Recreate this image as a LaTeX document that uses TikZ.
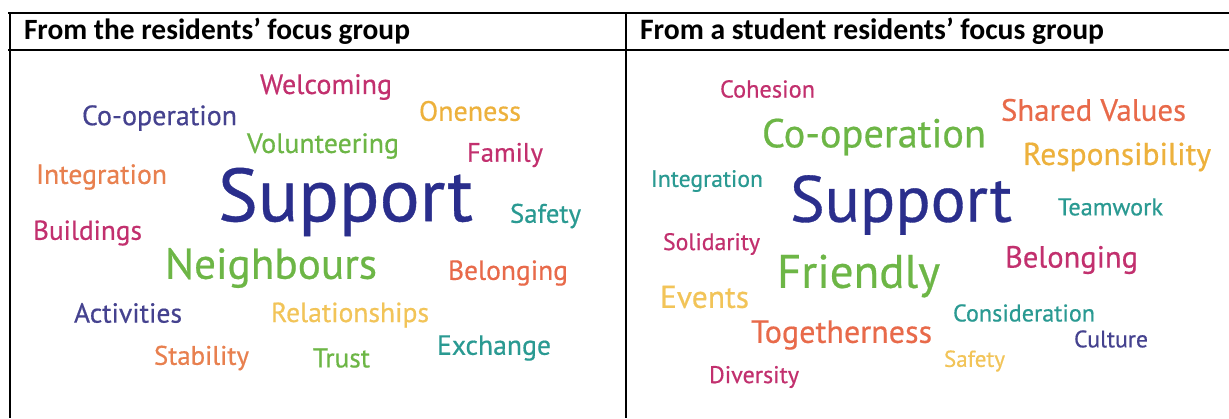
\documentclass[tikz,border=0pt]{standalone}
\usepackage{fontspec}
\setmainfont{PT Sans}[FakeBold=0.5]
\newfontfamily\hdrfont{Carlito}
\definecolor{cMag}{HTML}{C2306E}
\definecolor{cNavy}{HTML}{2A2E8C}
\definecolor{cPurple}{HTML}{45428F}
\definecolor{cOrange}{HTML}{E8804F}
\definecolor{cRed}{HTML}{E86A4A}
\definecolor{cYellow}{HTML}{EDB13C}
\definecolor{cLight}{HTML}{F2C458}
\definecolor{cGreen}{HTML}{6DB646}
\definecolor{cTeal}{HTML}{2A9A92}
\newcommand\fitw[2]{\resizebox{#1pt}{!}{#2}}
\tikzset{
  word/.style={anchor=west, inner sep=0pt, outer sep=0pt},
  hdr/.style={anchor=west, inner sep=0pt, outer sep=0pt, font=\hdrfont\bfseries},
  rule/.style={line width=2pt, black},
}
\begin{document}
\begin{tikzpicture}[x=1pt,y=-1pt]
\useasboundingbox (0,0) rectangle (1229,418);
\fill[white] (0,0) rectangle (1229,418);
% table rules
\coordinate (tl) at (8,13);
\coordinate (tr) at (1229,13);
\coordinate (hl) at (8,50);
\coordinate (hr) at (1229,50);
\coordinate (lt) at (10,13);
\coordinate (lb) at (10,418);
\coordinate (mt) at (626,13);
\coordinate (mb) at (626,418);
\draw[rule] (tl) -- (tr);
\draw[rule] (hl) -- (hr);
\draw[rule] (lt) -- (lb);
\draw[rule] (mt) -- (mb);
% headers
\node[hdr] (lhead) at (24,31) {\fitw{386}{From the residents’ focus group}};
\node[hdr] (rhead) at (640,31) {\fitw{464}{From a student residents’ focus group}};
% left cloud
\node[word, text=cMag] (lwelcoming) at (260,87) {\fitw{132}{Welcoming}};
\node[word, text=cPurple] (lcoop) at (82,118) {\fitw{155}{Co-operation}};
\node[word, text=cYellow] (loneness) at (419,111) {\fitw{102}{Oneness}};
\node[word, text=cGreen] (lvolunt) at (247,146) {\fitw{152}{Volunteering}};
\node[word, text=cMag] (lfamily) at (467,155) {\fitw{76}{Family}};
\node[word, text=cOrange] (linteg) at (36,177) {\fitw{131}{Integration}};
\node[word, text=cNavy] (lsupport) at (218,202) {\fitw{255}{Support}};
\node[word, text=cTeal] (lsafety) at (510,216) {\fitw{71}{Safety}};
\node[word, text=cMag] (lbuild) at (33,233) {\fitw{109}{Buildings}};
\node[word, text=cGreen] (lneigh) at (165,268) {\fitw{212}{Neighbours}};
\node[word, text=cRed] (lbelong) at (448,273) {\fitw{120}{Belonging}};
\node[word, text=cPurple] (lactiv) at (74,313) {\fitw{108}{Activities}};
\node[word, text=cLight] (lrelat) at (271,315) {\fitw{158}{Relationships}};
\node[word, text=cOrange] (lstab) at (154,358) {\fitw{95}{Stability}};
\node[word, text=cGreen] (ltrust) at (313,358) {\fitw{57}{Trust}};
\node[word, text=cTeal] (lexch) at (437,348) {\fitw{114}{Exchange}};
% right cloud
\node[word, text=cMag] (rcohes) at (720,89) {\fitw{95}{Cohesion}};
\node[word, text=cRed] (rshared) at (1001,110) {\fitw{185}{Shared Values}};
\node[word, text=cGreen] (rcoop) at (762,137) {\fitw{224}{Co-operation}};
\node[word, text=cYellow] (rrespons) at (1023,157) {\fitw{188}{Responsibility}};
\node[word, text=cTeal] (rinteg) at (651,181) {\fitw{112}{Integration}};
\node[word, text=cNavy] (rsupport) at (790,205) {\fitw{222}{Support}};
\node[word, text=cTeal] (rteam) at (1058,207) {\fitw{105}{Teamwork}};
\node[word, text=cMag] (rsolid) at (663,244) {\fitw{97}{Solidarity}};
\node[word, text=cMag] (rbelong) at (1005,260) {\fitw{133}{Belonging}};
\node[word, text=cGreen] (rfriend) at (777,276) {\fitw{163}{Friendly}};
\node[word, text=cLight] (revents) at (660,297) {\fitw{89}{Events}};
\node[word, text=cTeal] (rconsid) at (953,313) {\fitw{142}{Consideration}};
\node[word, text=cRed] (rtogeth) at (751,335) {\fitw{181}{Togetherness}};
\node[word, text=cPurple] (rcult) at (1074,339) {\fitw{74}{Culture}};
\node[word, text=cLight] (rsafety) at (944,361) {\fitw{61}{Safety}};
\node[word, text=cMag] (rdivers) at (709,377) {\fitw{90}{Diversity}};
\end{tikzpicture}
\end{document}
